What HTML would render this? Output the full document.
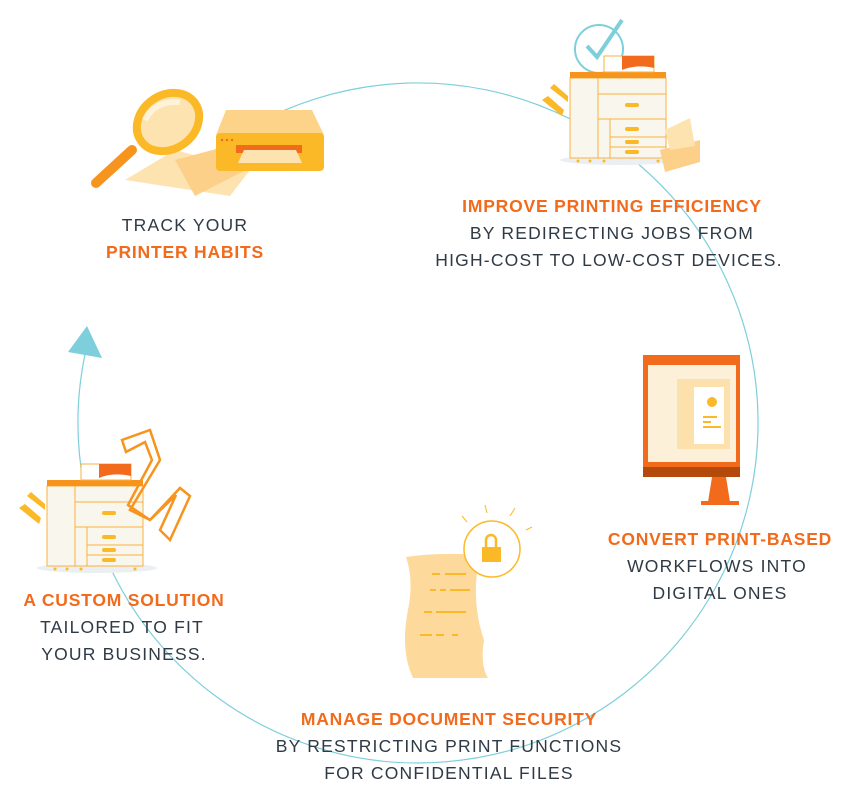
<!DOCTYPE html>
<html><head><meta charset="utf-8"><style>
body{margin:0;background:#fff}
svg{display:block}
text{font-family:"Liberation Sans",sans-serif;font-size:17.5px;text-anchor:middle;letter-spacing:1.2px}
.h{fill:#f26a1b;font-weight:bold;letter-spacing:0.8px}
.b{fill:#2f3a45}
</style></head><body>
<svg width="846" height="796" viewBox="0 0 846 796" xmlns="http://www.w3.org/2000/svg">
<defs>
<g id="cop">
<ellipse cx="50" cy="88" rx="60" ry="5" fill="#eceff1"/>
<path d="M-28 28 L-8 44 L-6 38 L-22 24Z" fill="#fbb927"/>
<path d="M-20 16 L-2 30 L-2 24 L-16 12Z" fill="#fbb927"/>
<rect x="0" y="6" width="28" height="80" fill="#f9f6ee" stroke="#fbb13c"/>
<rect x="28" y="6" width="68" height="80" fill="#f9f6ee" stroke="#fbb13c"/>
<rect x="0" y="0" width="28" height="6" fill="#f7941d"/>
<rect x="28" y="0" width="68" height="6" fill="#f7941d"/>
<rect x="34" y="-16" width="50" height="16" fill="#fff" stroke="#fbb13c"/>
<path d="M52 -16 L84 -16 L84 -4 Q66 -8 52 -2Z" fill="#f26a1b"/>
<line x1="28" y1="22" x2="96" y2="22" stroke="#fbb13c"/>
<line x1="28" y1="47" x2="96" y2="47" stroke="#fbb13c"/>
<rect x="40" y="47" width="56" height="39" fill="#f9f6ee" stroke="#fbb13c"/>
<line x1="40" y1="65" x2="96" y2="65" stroke="#fbb13c"/>
<line x1="40" y1="75" x2="96" y2="75" stroke="#fbb13c"/>
<rect x="55" y="31" width="14" height="4" rx="2" fill="#fbb927"/>
<rect x="55" y="55" width="14" height="4" rx="2" fill="#fbb927"/>
<rect x="55" y="68" width="14" height="4" rx="2" fill="#fbb927"/>
<rect x="55" y="78" width="14" height="4" rx="2" fill="#fbb927"/>
<circle cx="8" cy="89" r="1.5" fill="#fbb927"/><circle cx="20" cy="89" r="1.5" fill="#fbb927"/><circle cx="34" cy="89" r="1.5" fill="#fbb927"/><circle cx="88" cy="89" r="1.5" fill="#fbb927"/>
</g>
</defs>

<!-- cycle arc -->
<path d="M89.6 335 A340 340 0 1 0 185.4 175" fill="none" stroke="#7ecfdc" stroke-width="1.2"/>
<polygon points="87,326 68,352 102,358" fill="#7ecfdc"/>

<!-- magnifier + printer -->
<path d="M125 180 L175 150 L250 170 L230 196Z" fill="#fde3b0"/>
<path d="M175 160 L220 148 L250 168 L195 196Z" fill="#fdd08a"/>
<line x1="96" y1="183" x2="132" y2="150" stroke="#f7941d" stroke-width="10" stroke-linecap="round"/>
<ellipse cx="168" cy="122" rx="33" ry="27" transform="rotate(-35 168 122)" fill="#fde3b0" stroke="#fbb927" stroke-width="8"/>
<path d="M145 120 Q155 100 180 102" stroke="#fff2d8" stroke-width="6" fill="none"/>
<path d="M226 110 L312 110 L324 135 L216 135Z" fill="#fdd38a"/>
<rect x="216" y="133" width="108" height="38" rx="4" fill="#fbb927"/>
<rect x="236" y="145" width="66" height="8" fill="#f26a1b"/>
<path d="M244 150 L296 150 L302 163 L238 163Z" fill="#fde3b0"/>
<circle cx="222" cy="140" r="1.2" fill="#f26a1b"/><circle cx="227" cy="140" r="1.2" fill="#f26a1b"/><circle cx="232" cy="140" r="1.2" fill="#f26a1b"/>

<!-- top right copier -->
<circle cx="599" cy="49" r="24" fill="none" stroke="#7ecfdc" stroke-width="2"/>
<path d="M587 46 L597 57 L622 20" fill="none" stroke="#7ecfdc" stroke-width="4"/>
<use href="#cop" transform="translate(570,72)"/>
<path d="M660 150 L700 140 L700 162 L665 172Z" fill="#fdd08a"/>
<path d="M665 130 L690 118 L695 146 L670 150Z" fill="#fde3b0"/>

<!-- left copier + tape -->
<use href="#cop" transform="translate(47,480)"/>
<path d="M122 440 L150 430 L160 460 L130 510 L150 520 L180 488 L190 496 L170 540 L160 530 L176 495 L150 520 L128 505 L152 460 L145 442 L126 452Z" fill="none" stroke="#f7941d" stroke-width="2.5"/>

<!-- monitor -->
<rect x="643" y="355" width="97" height="122" fill="#f26a1b"/>
<rect x="648" y="365" width="88" height="97" fill="#fdf0d8"/>
<rect x="677" y="379" width="53" height="70" fill="#fde1ad"/>
<rect x="694" y="387" width="30" height="57" fill="#fff"/>
<circle cx="712" cy="402" r="5" fill="#fbb927"/>
<rect x="703" y="416" width="14" height="2" fill="#fbb927"/><rect x="703" y="421" width="8" height="2" fill="#fbb927"/><rect x="703" y="426" width="18" height="2" fill="#fbb927"/>
<rect x="643" y="467" width="97" height="10" fill="#b34a0c"/>
<polygon points="712,477 726,477 730,502 708,502" fill="#f26a1b"/>
<rect x="701" y="501" width="38" height="4" fill="#f26a1b"/>

<!-- scroll + lock -->
<path d="M406 557 Q440 552 480 555 Q470 600 484 640 Q480 665 488 678 L413 678 Q400 650 408 610 Q414 580 406 557Z" fill="#fdd99c"/>
<g stroke="#fbb927" stroke-width="2"><line x1="432" y1="574" x2="440" y2="574"/><line x1="445" y1="574" x2="466" y2="574"/>
<line x1="430" y1="590" x2="436" y2="590"/><line x1="440" y1="590" x2="446" y2="590"/><line x1="450" y1="590" x2="470" y2="590"/>
<line x1="424" y1="612" x2="432" y2="612"/><line x1="436" y1="612" x2="466" y2="612"/>
<line x1="420" y1="635" x2="432" y2="635"/><line x1="436" y1="635" x2="444" y2="635"/><line x1="452" y1="635" x2="458" y2="635"/></g>
<circle cx="492" cy="549" r="28" fill="#fff" stroke="#fbb927" stroke-width="1.5"/>
<rect x="482" y="547" width="19" height="15" fill="#fbb927"/>
<path d="M486 547 V540 A5 5 0 0 1 496 540 V547" fill="none" stroke="#fbb927" stroke-width="2.5"/>
<g stroke="#fbb927" stroke-width="1"><line x1="485" y1="505" x2="487" y2="513"/><line x1="515" y1="508" x2="510" y2="516"/><line x1="462" y1="516" x2="467" y2="522"/><line x1="532" y1="527" x2="526" y2="530"/></g>

<!-- text -->
<text class="b" x="185" y="231">TRACK YOUR</text>
<text class="h" x="185" y="258">PRINTER HABITS</text>
<text class="h" x="612" y="212">IMPROVE PRINTING EFFICIENCY</text>
<text class="b" x="612" y="239">BY REDIRECTING JOBS FROM</text>
<text class="b" x="609" y="266">HIGH-COST TO LOW-COST DEVICES.</text>
<text class="h" x="720" y="545">CONVERT PRINT-BASED</text>
<text class="b" x="717" y="572">WORKFLOWS INTO</text>
<text class="b" x="720" y="599">DIGITAL ONES</text>
<text class="h" x="124" y="606">A CUSTOM SOLUTION</text>
<text class="b" x="122" y="633">TAILORED TO FIT</text>
<text class="b" x="124" y="660">YOUR BUSINESS.</text>
<text class="h" x="449" y="725">MANAGE DOCUMENT SECURITY</text>
<text class="b" x="449" y="752">BY RESTRICTING PRINT FUNCTIONS</text>
<text class="b" x="449" y="779">FOR CONFIDENTIAL FILES</text>
</svg>
</body></html>
